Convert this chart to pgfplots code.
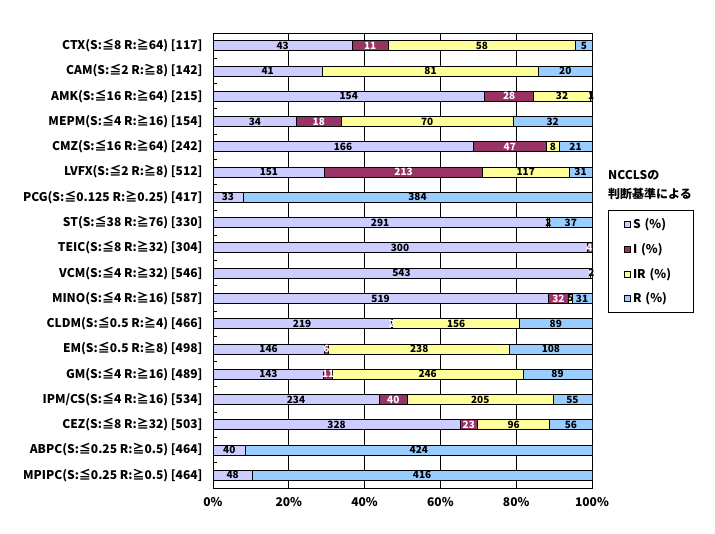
\documentclass[border=0pt]{standalone}
\usepackage{fontspec}
\setmainfont{Noto Sans CJK JP}
\usepackage{pgfplots}
\usepackage{pgfplotstable}
\pgfplotsset{compat=1.18}
\definecolor{cS}{RGB}{204,204,255}
\definecolor{cI}{RGB}{153,51,102}
\definecolor{cIR}{RGB}{255,255,153}
\definecolor{cR}{RGB}{153,204,255}
\pgfplotstableread{
idx S I IR R N
0 43 11 58 5 117
1 41 0 81 20 142
2 154 28 32 1 215
3 34 18 70 32 154
4 166 47 8 21 242
5 151 213 117 31 512
6 33 0 0 384 417
7 291 0 2 37 330
8 300 4 0 0 304
9 543 1 2 0 546
10 519 32 5 31 587
11 219 2 156 89 466
12 146 6 238 108 498
13 143 11 246 89 489
14 234 40 205 55 534
15 328 23 96 56 503
16 40 0 0 424 464
17 48 0 0 416 464
}\data
\newcommand{\lfont}{\bfseries\fontsize{12}{14}\selectfont}
\newcommand{\nfont}{\bfseries\fontsize{10}{12}\selectfont}
\pgfplotsset{myax/.style={scale only axis, width=379pt, height=455pt,
  xmin=0, xmax=100, ymin=-0.5, ymax=17.5, y dir=reverse,
  at={(213pt,46pt)}, anchor=south west},
  lbl/.style={draw=none, nodes near coords={\ifnum\pgfplotspointmeta=0 \else\pgfplotspointmeta\fi},
  point meta=explicit symbolic, nodes near coords align=center,
  every node near coord/.append style={font=\nfont, inner sep=0pt, #1}},
  lbl/.default={black}}
\begin{document}
\begin{tikzpicture}
\begin{axis}[myax, xbar stacked, bar width=10pt,
  xtick={0,20,40,60,80,100},
  xticklabels={0\%,20\%,40\%,60\%,80\%,100\%},
  xmajorgrids, major grid style={black, line width=0.8pt},
  ytick={0,...,17},
  yticklabels={CTX(S:≦8 R:≧64) [117],CAM(S:≦2 R:≧8) [142],AMK(S:≦16 R:≧64) [215],MEPM(S:≦4 R:≧16) [154],CMZ(S:≦16 R:≧64) [242],LVFX(S:≦2 R:≧8) [512],PCG(S:≦0.125 R:≧0.25) [417],ST(S:≦38 R:≧76) [330],TEIC(S:≦8 R:≧32) [304],VCM(S:≦4 R:≧32) [546],MINO(S:≦4 R:≧16) [587],CLDM(S:≦0.5 R:≧4) [466],EM(S:≦0.5 R:≧8) [498],GM(S:≦4 R:≧16) [489],IPM/CS(S:≦4 R:≧16) [534],CEZ(S:≦8 R:≧32) [503],ABPC(S:≦0.25 R:≧0.5) [464],MPIPC(S:≦0.25 R:≧0.5) [464]},
  major tick length=0pt,
  minor ytick={0.5,1.5,...,16.5},
  minor tick length=4pt, tick align=inside, ytick pos=left, xtick pos=bottom,
  minor tick style={black, line width=0.8pt},
  axis line style={black, line width=0.8pt},
  ticklabel style={font=\lfont},
  yticklabel style={xshift=-7pt},
  xticklabel style={yshift=-6pt},
  legend style={at={(1.0422,0.61)}, anchor=north west, draw=black, line width=0.8pt,
    font=\lfont, row sep=9pt, inner xsep=16pt, inner ysep=6pt,
    text width=42pt},
  legend cell align=left,
  every axis plot post/.append style={line width=0.8pt,
    legend image code/.code={\draw[##1, line width=0.6pt] (4pt,-3pt) rectangle (10pt,3pt);}},
]
\addplot[fill=cS, draw=black] table[x expr=\thisrow{S}/\thisrow{N}*100, y=idx]{\data};
\addplot[fill=cI, draw=black] table[x expr=\thisrow{I}/\thisrow{N}*100, y=idx]{\data};
\addplot[fill=cIR, draw=black] table[x expr=\thisrow{IR}/\thisrow{N}*100, y=idx]{\data};
\addplot[fill=cR, draw=black] table[x expr=\thisrow{R}/\thisrow{N}*100, y=idx]{\data};
\legend{S (\%),I (\%),IR (\%),R (\%)}
\end{axis}
\begin{axis}[myax, hide axis, clip=false]
\addplot[lbl] table[x expr=(\thisrow{S}/2)/\thisrow{N}*100, y=idx, meta=S]{\data};
\addplot[lbl=white] table[x expr=(\thisrow{S}+\thisrow{I}/2)/\thisrow{N}*100, y=idx, meta=I]{\data};
\addplot[lbl] table[x expr=(\thisrow{S}+\thisrow{I}+\thisrow{IR}/2)/\thisrow{N}*100, y=idx, meta=IR]{\data};
\addplot[lbl] table[x expr=(\thisrow{S}+\thisrow{I}+\thisrow{IR}+\thisrow{R}/2)/\thisrow{N}*100, y=idx, meta=R]{\data};
\end{axis}
\node[anchor=west, font=\lfont, inner sep=0pt] at (608pt,359pt) {NCCLSの};
\node[anchor=west, font=\lfont, inner sep=0pt] at (608pt,340pt) {判断基準による};
\pgfresetboundingbox
\path (0,0) rectangle (715pt,534pt);
\end{tikzpicture}
\end{document}
